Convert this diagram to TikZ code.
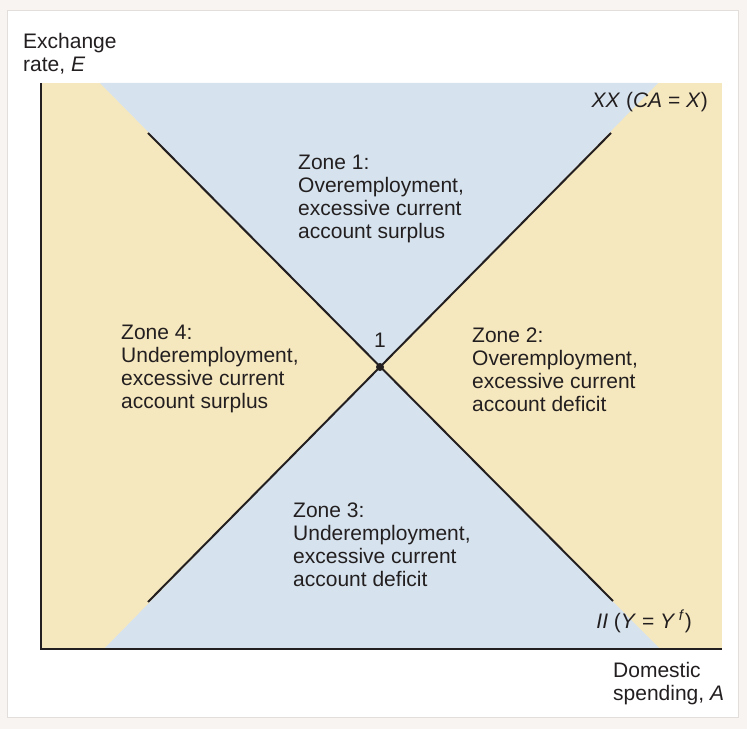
\documentclass[tikz,border=0pt]{standalone}
\usepackage{fontspec}
\setmainfont{Liberation Sans}
\usetikzlibrary{positioning}

\definecolor{pagebg}{RGB}{248,244,241}
\definecolor{cardedge}{RGB}{226,222,220}
\definecolor{zoneblue}{RGB}{214,227,238}
\definecolor{zoneyellow}{RGB}{246,232,190}
\definecolor{inkdark}{RGB}{35,31,32}

\tikzset{
  zonetext/.style={anchor=north west, inner sep=0pt, align=left, font=\fontsize{21}{23}\selectfont, text=inkdark},
  curvelabel/.style={inner sep=0pt, font=\fontsize{21}{23}\selectfont, text=inkdark},
  schedule/.style={line width=2pt, draw=inkdark},
  axisline/.style={line width=2.5pt, draw=inkdark, line join=miter},
}

\begin{document}
\begin{tikzpicture}[x=1pt, y=1pt]
    \useasboundingbox (0, 0) rectangle (747, 729);
    \fill [pagebg] (0, 0) rectangle (747, 729);
    \filldraw [fill=white, draw=cardedge, line width=1pt] (7, 12) rectangle (738, 718);

    % zones
    \coordinate (eq) at (380, 362);
    \fill [zoneyellow] (41, 80) rectangle (722, 646);
    \fill [zoneblue] (100, 646) -- (658, 646) -- (eq) -- cycle;
    \fill [zoneblue] (104, 80) -- (660, 80) -- (eq) -- cycle;

    % axes
    \coordinate (origin) at (41, 80);
    \coordinate (ytop) at (41, 646);
    \coordinate (xend) at (722, 80);
    \draw [axisline] (ytop) -- (origin) -- (xend);

    % XX and II schedules
    \coordinate (xxlow) at (148, 127);
    \coordinate (xxhigh) at (611, 596);
    \coordinate (iihigh) at (148, 596);
    \coordinate (iilow) at (613, 128);
    \draw [schedule] (xxlow) -- (xxhigh);
    \draw [schedule] (iihigh) -- (iilow);
    \fill [inkdark] (eq) circle (4);

    \node [curvelabel] (one) at (380, 389) {1};
    \node [curvelabel, anchor=base east] (xxlabel) at (708, 621) {\textit{XX} (\textit{CA} = \textit{X})};
    \node [curvelabel, anchor=base east] (iilabel) at (692, 101) {\textit{II} (\textit{Y} = \textit{Y}\,\textsuperscript{\textit{f}})};

    \node [zonetext] (zone1) at (298, 574) {Zone 1:\\Overemployment,\\excessive current\\account surplus};
    \node [zonetext] (zone2) at (472, 401) {Zone 2:\\Overemployment,\\excessive current\\account deficit};
    \node [zonetext] (zone3) at (293, 226) {Zone 3:\\Underemployment,\\excessive current\\account deficit};
    \node [zonetext] (zone4) at (121, 404) {Zone 4:\\Underemployment,\\excessive current\\account surplus};

    \node [zonetext] (ylabel) at (23, 696) {Exchange\\rate, \textit{E}};
    \node [zonetext] (xlabel) at (613, 67) {Domestic\\spending, \textit{A}};
\end{tikzpicture}
\end{document}
